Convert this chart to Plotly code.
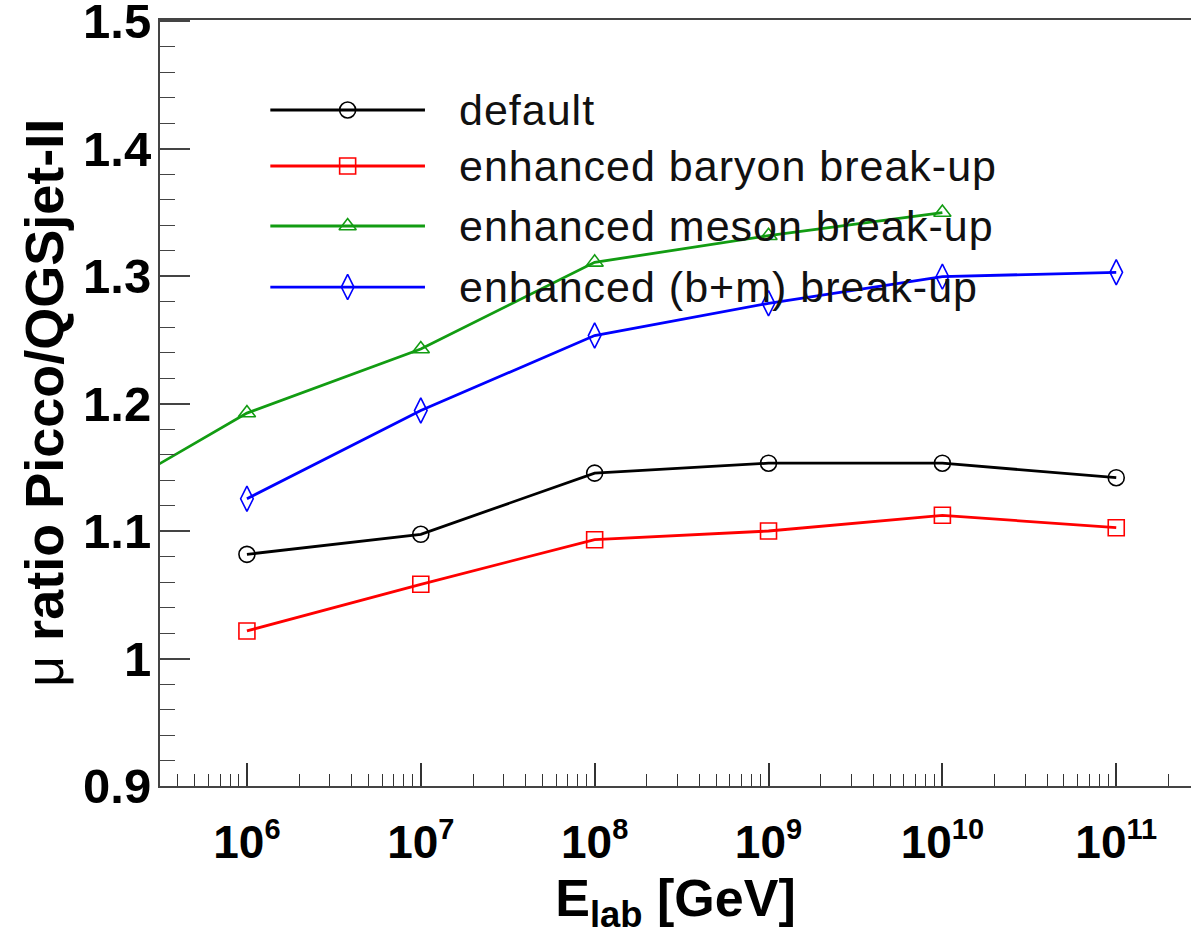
import plotly.graph_objects as go

# ---- data ----
energies = [1e6, 1e7, 1e8, 1e9, 1e10, 1e11]
default = [1.0817, 1.0974, 1.1454, 1.1532, 1.1532, 1.1418]
baryon = [1.0216, 1.0582, 1.0932, 1.1000, 1.1123, 1.1026]
meson_x = [1e5, 1e6, 1e7, 1e8, 1e9, 1e10]
meson = [1.1134, 1.1925, 1.2428, 1.3107, 1.3316, 1.3498]
bm = [1.1253, 1.1945, 1.2533, 1.2786, 1.2995, 1.3029]

series_names = ["default", "enhanced baryon break-up",
                "enhanced meson break-up", "enhanced (b+m) break-up"]
series_colors = ["#000000", "#ff0000", "#129c12", "#0000ff"]
series_symbols = ["circle-open", "square-open", "triangle-up-open", "diamond-tall-open"]
series_sizes = [16, 16, 15, 18]

x_tickvals = [1e6, 1e7, 1e8, 1e9, 1e10, 1e11]
x_exps = ["6", "7", "8", "9", "10", "11"]

FONT = "Liberation Sans, Arial, Helvetica, sans-serif"

fig = go.Figure()
all_x = [energies, energies, meson_x, energies]
all_y = [default, baryon, meson, bm]
for xs, ys, nm, col, sym, sz in zip(all_x, all_y, series_names, series_colors,
                                    series_symbols, series_sizes):
    fig.add_trace(go.Scatter(
        x=xs, y=ys, mode="lines+markers", name=nm, showlegend=False,
        line=dict(color=col, width=2.8),
        marker=dict(symbol=sym, size=sz, color=col, line=dict(color=col, width=1.6)),
    ))

# ---- manual legend on an overlay axis pair (0..1 over the plot area) ----
leg_y = [0.8825, 0.8094, 0.7311, 0.6514]
for i, (nm, col, sym, sz) in enumerate(zip(series_names, series_colors,
                                            series_symbols, series_sizes)):
    fig.add_trace(go.Scatter(
        x=[0.107, 0.257], y=[leg_y[i], leg_y[i]], mode="lines",
        line=dict(color=col, width=2.8), xaxis="x2", yaxis="y2",
        showlegend=False, hoverinfo="skip"))
    fig.add_trace(go.Scatter(
        x=[0.182], y=[leg_y[i]], mode="markers",
        marker=dict(symbol=sym, size=sz, color=col, line=dict(color=col, width=1.6)),
        xaxis="x2", yaxis="y2", showlegend=False, hoverinfo="skip"))
    fig.add_annotation(
        x=0.288, y=leg_y[i], xref="x2", yref="y2",
        text='<span style="letter-spacing:1px">%s</span>' % nm, showarrow=False,
        xanchor="left", yanchor="middle",
        font=dict(family=FONT, size=43, color="#111111"))

# y-axis title as a rotated annotation
fig.add_annotation(
    x=-0.1125, y=0.5, xref="paper", yref="paper", textangle=-90,
    text='<span style="font-weight:normal">μ</span> ratio Picco/QGSjet-II',
    showarrow=False, xanchor="center", yanchor="middle",
    font=dict(family=FONT, size=54, color="black", weight="bold"))

x_ticktext = ['10<sup><span style="font-size:29px">%s</span></sup>' % e for e in x_exps]

fig.update_layout(
    width=1191, height=935,
    margin=dict(l=160, r=0, t=20, b=149, autoexpand=False),
    plot_bgcolor="white", paper_bgcolor="white",
    font=dict(family=FONT, color="black"),
    xaxis=dict(
        type="log", range=[5.5, 11.43], automargin=False,
        tickvals=x_tickvals, ticktext=x_ticktext,
        ticks="inside", ticklen=23, tickwidth=1.5, tickcolor="#333",
        minor=dict(ticks="inside", ticklen=12, tickwidth=1.2, tickcolor="#333", dtick="D1"),
        showline=True, linecolor="#444", linewidth=2, mirror=True,
        showgrid=False, zeroline=False,
        tickfont=dict(family=FONT, size=46, color="black", weight="bold"),
        ticklabelstandoff=15, ticklabeloverflow="allow",
        title=dict(text="E<sub>lab</sub> [GeV]",
                   font=dict(family=FONT, size=52, color="black", weight="bold"),
                   standoff=12),
    ),
    yaxis=dict(
        range=[0.9, 1.5008], automargin=False,
        tickmode="linear", tick0=0.9, dtick=0.1,
        ticks="inside", ticklen=30, tickwidth=1.5, tickcolor="#444",
        minor=dict(ticks="inside", ticklen=15, tickwidth=1.2, tickcolor="#444", dtick=0.02),
        showline=True, linecolor="#444", linewidth=2, mirror=False,
        showgrid=False, zeroline=False,
        tickfont=dict(family=FONT, size=49, color="black", weight="bold"),
        ticklabelstandoff=-3, ticklabeloverflow="allow",
    ),
    xaxis2=dict(domain=[0, 1], range=[0, 1], overlaying="x", anchor="y2",
                visible=False, fixedrange=True),
    yaxis2=dict(domain=[0, 1], range=[0, 1], overlaying="y", anchor="x2",
                visible=False, fixedrange=True),
    showlegend=False,
)

fig.write_html("out.html")
